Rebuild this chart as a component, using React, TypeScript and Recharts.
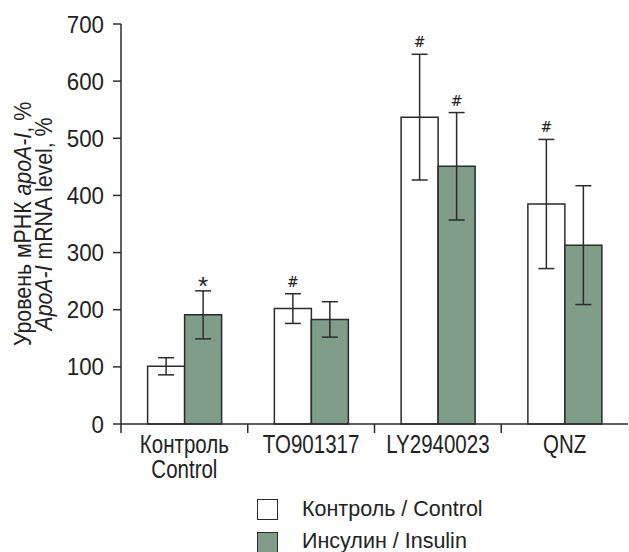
import { BarChart, Bar, XAxis, YAxis, ErrorBar, LabelList, Legend } from "recharts";

const categories = ["Контроль\nControl", "TO901317", "LY2940023", "QNZ"];
const controlValues = [101, 202, 537, 385];
const controlErrors = [15, 26, 110, 113];
const insulinValues = [191, 183, 451, 313];
const insulinErrors = [42, 31, 94, 104];
const controlMarks = ["", "#", "#", "#"];
const insulinMarks = ["*", "", "#", ""];
const yTicks = [0, 100, 200, 300, 400, 500, 600, 700];

// no narrow font installed, so squeeze Liberation Sans horizontally
const FONT = "'Liberation Sans', Arial, sans-serif";
const SQUEEZE = 0.82;
const INK = "#2b2b2b";
const GREEN = "#7f9d88";

const data = categories.map((name, i) => ({
  name,
  control: controlValues[i],
  controlErr: controlErrors[i],
  insulin: insulinValues[i],
  insulinErr: insulinErrors[i],
}));

function CategoryTick(props: any) {
  const { x, y, payload } = props;
  const half = payload?.offset || 63;
  const lines = String(payload.value).split("\n");
  return (
    <g>
      <line x1={x - half} y1={y} x2={x - half} y2={y + 9} stroke={INK} strokeWidth={1.5} />
      {lines.map((l, i) => (
        <g key={i} transform={`translate(${x}, ${y + 29 + i * 25}) scale(${SQUEEZE}, 1)`}>
          <text x={0} y={0} textAnchor="middle" fontFamily={FONT} fontSize={25} fill="#222">
            {l}
          </text>
        </g>
      ))}
    </g>
  );
}

function ValueTick(props: any) {
  const { x, y, payload } = props;
  return (
    <g transform={`translate(${x}, ${y}) scale(0.93, 1)`}>
      <text x={0} y={0} dy="0.355em" textAnchor="end" fontFamily={FONT} fontSize={24} fill="#222">
        {payload.value}
      </text>
    </g>
  );
}

function makeMark(marks: string[], errs: number[]) {
  return (props: any) => {
    const { x, y, width, height, value, index } = props;
    const m = marks[index];
    if (!m || !value) return null;
    const pxPerUnit = height / value;
    const errTop = y - errs[index] * pxPerUnit;
    const cx = x + width / 2;
    if (m === "*") {
      return (
        <text x={cx} y={errTop + 4} textAnchor="middle" fontFamily={FONT} fontSize={26} fill="#222">
          *
        </text>
      );
    }
    return (
      <text x={cx} y={errTop - 7} textAnchor="middle" fontFamily="'DejaVu Serif', serif" fontStyle="italic" fontSize={14} fill="#222">
        #
      </text>
    );
  };
}

function YLabel(props: any) {
  const vb = props.viewBox || { y: 24, height: 400 };
  const cy = vb.y + vb.height / 2;
  return (
    <g fontFamily={FONT} fontSize={24.5} fill="#222">
      <text x={0} y={0} textAnchor="middle" transform={`translate(31, ${cy}) rotate(-90) scale(0.87, 1)`}>
        Уровень мРНК <tspan fontStyle="italic">apoA-I</tspan>, %
      </text>
      <text x={0} y={0} textAnchor="middle" transform={`translate(52, ${cy}) rotate(-90) scale(0.87, 1)`}>
        <tspan fontStyle="italic">ApoA-I</tspan> mRNA level, %
      </text>
    </g>
  );
}

function LegendBox() {
  const rows = [
    { fill: "#ffffff", label: "Контроль / Control" },
    { fill: GREEN, label: "Инсулин / Insulin" },
  ];
  return (
    <div style={{ position: "relative", height: 56, width: 629, fontFamily: FONT, fontSize: 21.5, color: "#222" }}>
      {rows.map((r, i) => (
        <div key={i}>
          <div
            style={{
              position: "absolute",
              left: 257,
              top: 3 + i * 33,
              width: 19,
              height: 19,
              background: r.fill,
              border: `1.5px solid ${INK}`,
            }}
          />
          <div style={{ position: "absolute", left: 302, top: 1 + i * 32, lineHeight: "24px", whiteSpace: "nowrap" }}>
            {r.label}
          </div>
        </div>
      ))}
    </div>
  );
}

export default function App() {
  return (
    <div style={{ position: "absolute", left: 0, top: 0, width: 629, height: 552, background: "#fff" }}>
      <BarChart
        width={629}
        height={552}
        data={data}
        margin={{ top: 24, right: 1, left: 0, bottom: 0 }}
        barCategoryGap="21%"
        barGap={0}
      >
        <XAxis
          dataKey="name"
          height={72}
          tickLine={false}
          tickSize={0}
          tickMargin={0}
          axisLine={{ stroke: INK, strokeWidth: 1.5 }}
          tick={<CategoryTick />}
          interval={0}
        />
        <YAxis
          width={121}
          domain={[0, 700]}
          ticks={yTicks}
          interval={0}
          tickSize={8}
          tickMargin={9}
          axisLine={{ stroke: INK, strokeWidth: 1.5 }}
          tickLine={{ stroke: INK, strokeWidth: 1.5 }}
          tick={<ValueTick />}
          label={<YLabel />}
        />
        <Legend verticalAlign="bottom" wrapperStyle={{ left: 0, width: 629, bottom: 0 }} content={() => <LegendBox />} />
        <Bar dataKey="control" name="Контроль / Control" fill="#ffffff" stroke={INK} strokeWidth={1.5} isAnimationActive={false}>
          <ErrorBar dataKey="controlErr" width={8} stroke={INK} strokeWidth={1.5} isAnimationActive={false} />
          <LabelList dataKey="control" content={makeMark(controlMarks, controlErrors)} />
        </Bar>
        <Bar dataKey="insulin" name="Инсулин / Insulin" fill={GREEN} stroke={INK} strokeWidth={1.5} isAnimationActive={false}>
          <ErrorBar dataKey="insulinErr" width={8} stroke={INK} strokeWidth={1.5} isAnimationActive={false} />
          <LabelList dataKey="insulin" content={makeMark(insulinMarks, insulinErrors)} />
        </Bar>
      </BarChart>
    </div>
  );
}
